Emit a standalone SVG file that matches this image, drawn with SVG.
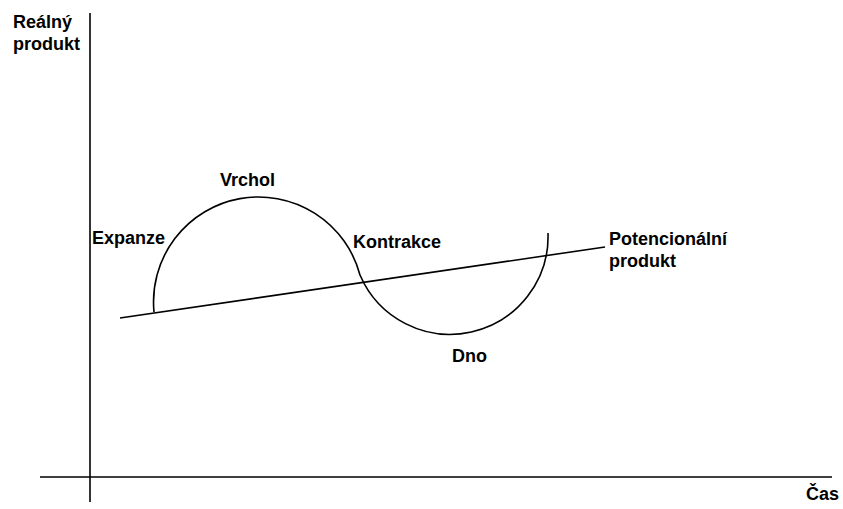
<svg xmlns="http://www.w3.org/2000/svg" width="843" height="509" viewBox="0 0 843 509">
<style>
.t{font-family:"Liberation Sans",Arial,sans-serif;font-weight:bold;font-size:18px;fill:#000}
.ln{fill:none;stroke:#000;stroke-width:1.6}
</style>
<rect width="843" height="509" fill="#fff"/>
<g id="axes">
<line class="ln" x1="90" y1="13" x2="90" y2="502"/>
<line class="ln" x1="40" y1="477" x2="832" y2="477" stroke-width="2.2" stroke="#222"/>
</g>
<g id="connectors">
<line id="potential-line" class="ln" x1="120" y1="318" x2="605" y2="247"/>
<path id="cycle" class="ln" d="M154 312 A105 105 0 0 1 360 275 A98 98 0 0 0 548 233"/>
</g>
<g id="label-y"><text class="t" x="13" y="28">Reálný</text><text class="t" x="13" y="50">produkt</text></g>
<g id="label-expanze"><text class="t" x="92" y="244">Expanze</text></g>
<g id="label-vrchol"><text class="t" x="220" y="186">Vrchol</text></g>
<g id="label-kontrakce"><text class="t" x="353" y="248">Kontrakce</text></g>
<g id="label-dno"><text class="t" x="452" y="362">Dno</text></g>
<g id="label-potential"><text class="t" x="609" y="245">Potencionální</text><text class="t" x="609" y="267">produkt</text></g>
<g id="label-x"><text class="t" x="806" y="500">Čas</text></g>
</svg>
